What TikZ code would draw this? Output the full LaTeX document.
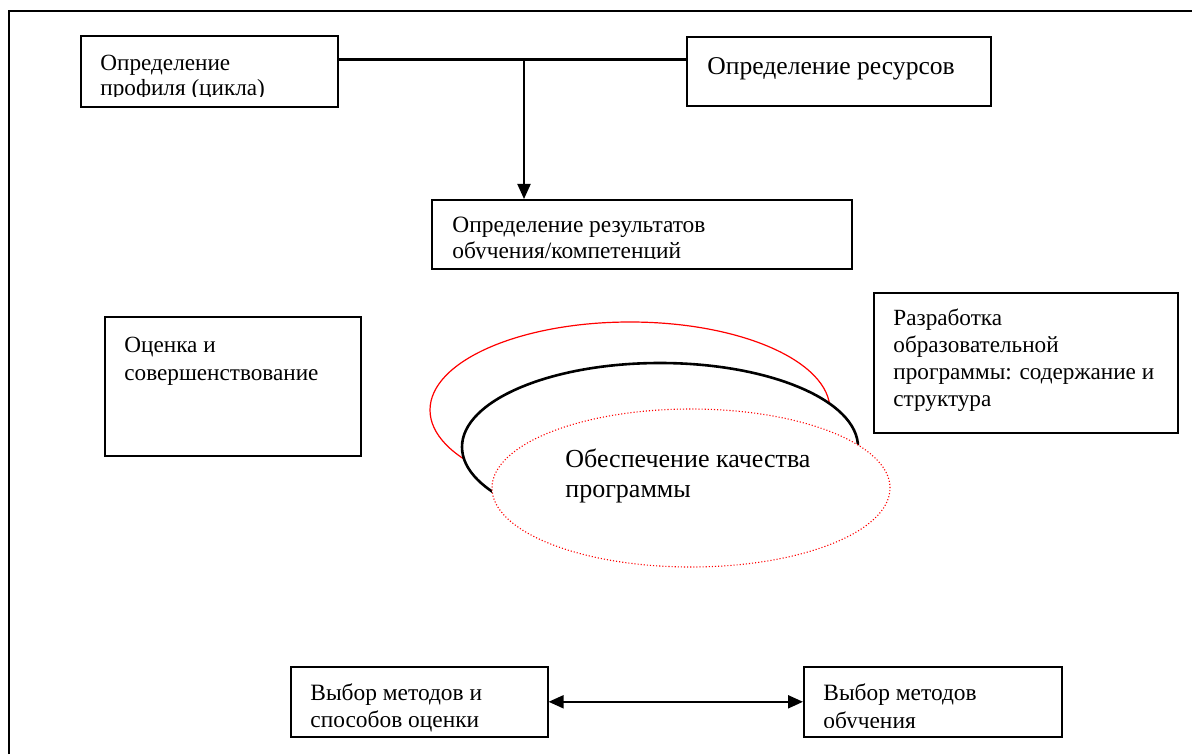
\documentclass[tikz,border=0pt]{standalone}
\usepackage{fontspec}
\setmainfont{Liberation Serif}
\usetikzlibrary{arrows.meta,shapes.geometric}
\begin{document}
\begin{tikzpicture}[x=0.5pt,y=-0.5pt,
  >={Triangle[length=7.5pt,width=6.5pt]},
  box/.style={draw, line width=0.8pt, anchor=north west, inner sep=0pt},
  txt/.style={anchor=north west, inner sep=0pt, align=left},
  oval/.style={ellipse, inner sep=0pt, fill=white}]
\useasboundingbox (0,0) rectangle (1192,754);
\fill[white] (0,0) rectangle (1192,754);
% outer frame (open to the right and bottom)
\draw[line width=1pt] (9,754) -- (9,11) -- (1192,11);

% boxes
\node[box, minimum width=128.5pt, minimum height=35.5pt] (b1) at (80,35) {};
\node[box, minimum width=152pt, minimum height=34.5pt] (b2) at (686,36) {};
\node[box, minimum width=210pt, minimum height=34.5pt] (b3) at (431,199) {};
\node[box, minimum width=128pt, minimum height=69.5pt] (b4) at (104,316) {};
\node[box, minimum width=152pt, minimum height=70pt] (b5) at (873,292) {};
\node[box, minimum width=128.5pt, minimum height=35pt] (b6) at (290,666) {};
\node[box, minimum width=129pt, minimum height=35pt] (b7) at (803,666) {};

% texts
\begin{scope}
  \clip (0,0) rectangle (1192,97);
  \node[txt, font=\fontsize{11.6}{12.5}\selectfont] (t1) at (100,55) {Определение\\профиля (цикла)};
\end{scope}
\node[txt, font=\fontsize{12.8}{15}\selectfont] (t2) at (707,57) {Определение ресурсов};
\begin{scope}
  \clip (0,0) rectangle (1192,258.5);
  \node[txt, font=\fontsize{11.7}{13}\selectfont] (t3) at (452,217) {Определение результатов\\обучения/компетенций};
\end{scope}
\node[txt, font=\fontsize{11.6}{14}\selectfont] (t4) at (124,337) {Оценка и\\совершенствование};
\node[txt, font=\fontsize{11.6}{13.5}\selectfont] (t5) at (893,308) {Разработка\\образовательной\\программы: содержание и\\структура};
\node[txt, font=\fontsize{11.7}{13.5}\selectfont] (t6) at (310,683) {Выбор методов и\\способов оценки};
\begin{scope}
  \clip (0,0) rectangle (1192,727);
  \node[txt, font=\fontsize{11.7}{14}\selectfont] (t7) at (823,683) {Выбор методов\\обучения};
\end{scope}

% connectors
\coordinate (j) at (524,60);
\draw[line width=1.5pt] (b1.east |- j) -- (b2.west |- j);
\draw[line width=1pt, ->] (j) -- (j |- b3.north);
\draw[line width=1pt, <->] (b6.east) -- (b7.west);

% ellipses
\node[oval, draw=red, line width=0.6pt, minimum width=200pt, minimum height=88pt] (e1) at (630,410) {};
\node[oval, draw=black, line width=1.3pt, minimum width=198pt, minimum height=84pt] (e2) at (660,447) {};
\node[oval, draw=red, line width=0.55pt, dash pattern=on 0.55pt off 1pt, minimum width=199pt, minimum height=79pt] (e3) at (691,488) {};
\node[txt, font=\fontsize{13}{15}\selectfont] (t8) at (565,448) {Обеспечение качества\\программы};
\end{tikzpicture}
\end{document}
